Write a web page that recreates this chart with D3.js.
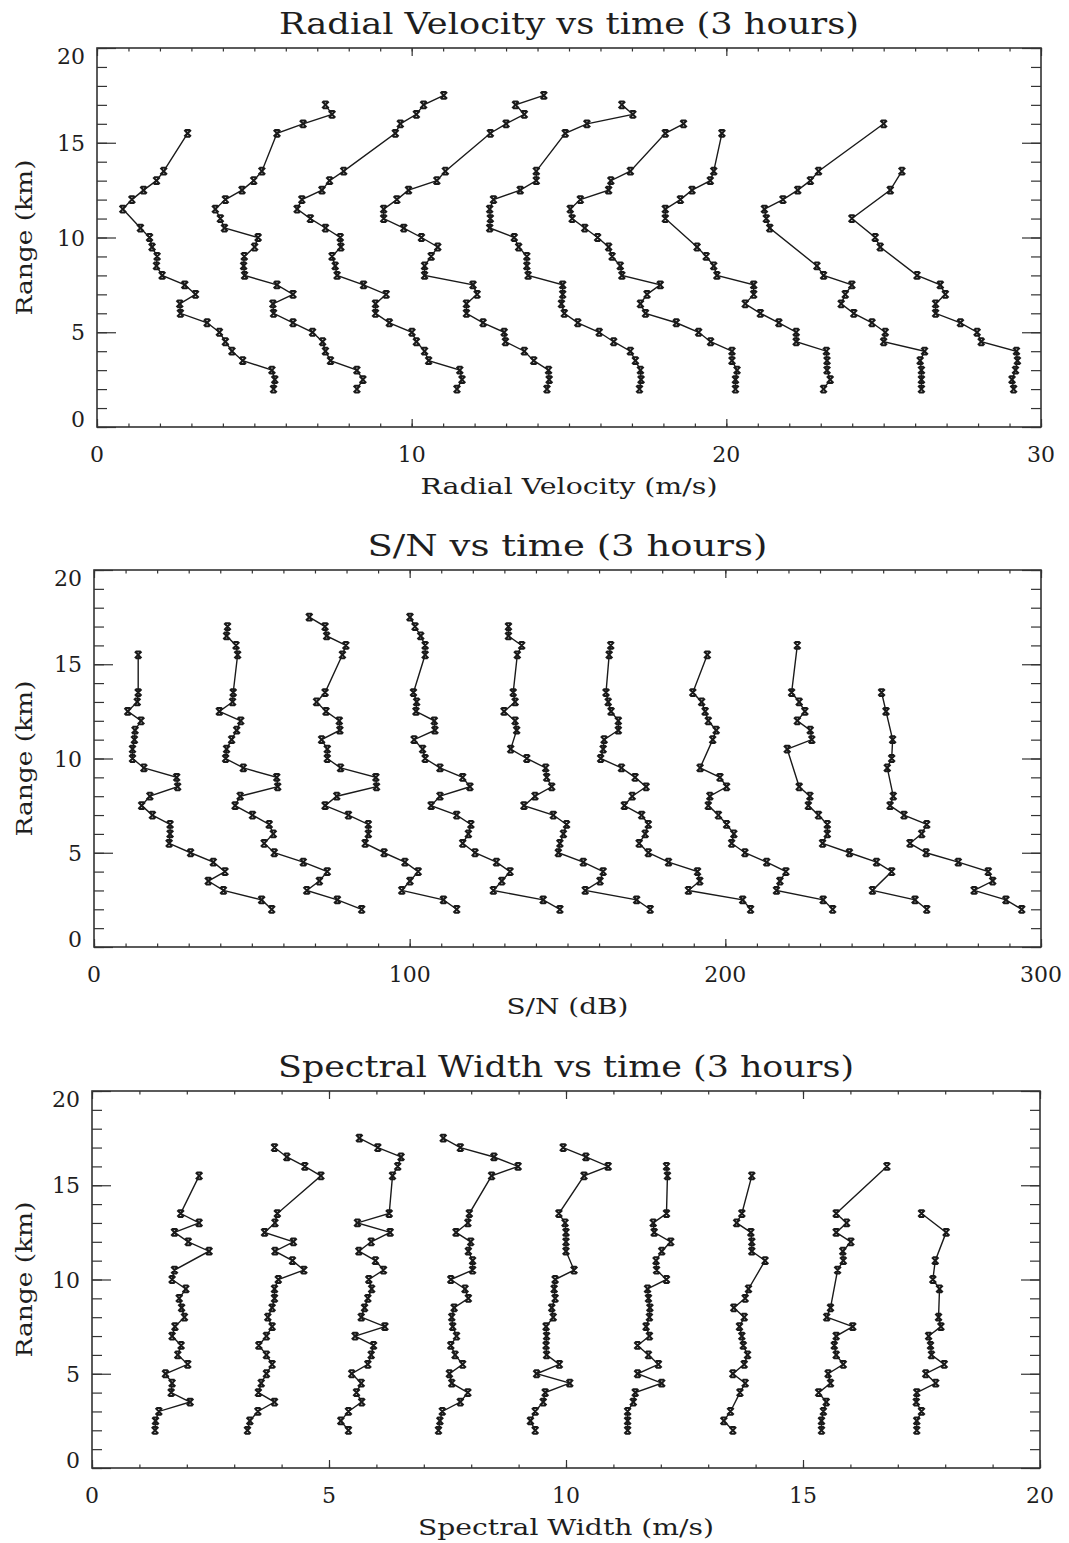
<!DOCTYPE html>
<html>
<head>
<meta charset="utf-8">
<script src="https://cdn.jsdelivr.net/npm/d3@7"></script>
<style>
  body { margin: 0; background: #fff; }
  svg { display: block; }
  text { font-family: "DejaVu Serif", "Liberation Serif", serif; fill: #1e1e1e; }
</style>
</head>
<body>
<svg id="chart" width="1069" height="1543"></svg>
<script>
const _ = null;

// range gates (km), shared by every profile
const ranges = [2, 2.5, 3, 3.5, 4, 4.5, 5, 5.5, 6, 6.5, 7, 7.5, 8, 8.5, 9, 9.5,
                10, 10.5, 11, 11.5, 12, 12.5, 13, 13.5, 14, 14.5, 15, 15.5, 16, 16.5, 17, 17.5];

// radial velocity profiles (m/s), one per time step
const vel1 = [5.61, 5.65, 5.56, 4.63, 4.29, 4.08, 3.89, 3.5, 2.65, 2.63, 3.13, 2.79, 2.07, 1.89, 1.91, 1.75, 1.67, 1.38, _, 0.82, 1.11, 1.48, 1.89, 2.12, _, _, _, 2.88, _, _, _, _];
const vel2 = [8.26, 8.45, 8.26, 7.42, 7.26, 7.17, 6.85, 6.23, 5.61, 5.59, 6.23, 5.72, 4.69, 4.66, 4.68, 5.01, 5.12, 4.05, 3.92, 3.76, 4.08, 4.61, 4.98, 5.24, _, _, _, 5.72, 6.55, 7.47, 7.26, _];
const vel3 = [11.44, 11.6, 11.53, 10.54, 10.41, 10.15, 10.01, 9.29, 8.85, 8.85, 9.19, 8.47, 7.63, 7.57, 7.47, 7.75, 7.73, 7.26, 6.78, 6.36, 6.51, 7.15, 7.39, 7.84, _, _, _, 9.48, 9.64, 10.15, 10.38, 11.02];
const vel4 = [14.3, 14.37, 14.35, 13.88, 13.58, 12.98, 12.94, 12.27, 11.74, 11.74, 12.08, 11.95, 10.41, 10.41, 10.62, 10.83, 10.31, 9.75, 9.11, 9.11, 9.53, 9.9, 10.8, 11.07, _, _, _, 12.5, 13.0, 13.58, 13.3, 14.2];
const vel5 = [17.24, 17.29, 17.27, 17.11, 16.95, 16.42, 15.96, 15.28, 14.85, 14.76, 14.8, 14.8, 13.7, 13.66, 13.66, 13.4, 13.26, 12.48, 12.5, 12.48, 12.6, 13.45, 13.96, 13.96, _, _, _, 14.88, 15.57, 17.03, 16.68, _];
const vel6 = [20.29, 20.29, 20.34, 20.18, 20.18, 19.5, 19.12, 18.41, 17.43, 17.27, 17.48, 17.9, 16.68, 16.63, 16.37, 16.26, 15.91, 15.5, 15.1, 15.04, 15.36, 16.26, 16.33, 16.95, _, _, _, 18.06, 18.64, _, _, _];
const vel7 = [23.09, 23.3, 23.2, 23.2, 23.18, 22.22, 22.22, 21.67, 21.08, 20.6, 20.87, 20.87, 19.7, 19.6, 19.36, 19.07, _, _, 18.06, 18.06, 18.54, 18.91, 19.49, 19.6, _, _, _, 19.86, _, _, _, _];
const vel8 = [26.2, 26.2, 26.2, 26.16, 26.3, 25.0, 25.05, 24.63, 24.05, 23.65, 23.78, 23.99, 23.09, 22.88, _, _, _, 21.38, 21.27, 21.21, 21.8, 22.27, 22.67, 22.93, _, _, _, _, 25.0, _, _, _];
const vel9 = [29.13, 29.08, 29.19, 29.25, 29.22, 28.1, 27.97, 27.44, 26.65, 26.65, 26.96, 26.8, 26.06, _, _, 24.89, 24.73, _, 23.99, _, _, 25.21, _, 25.58, _, _, _, _, _, _, _, _];

// signal to noise profiles (dB)
const snr1 = [56.3, 53.1, 41.0, 36.2, 41.5, 37.8, 30.6, 23.8, 24.1, 24.1, 18.5, 15.1, 17.7, 26.5, 26.2, 15.8, 12.2, 12.2, 12.8, 13.0, 14.9, 10.7, 13.7, 14.0, _, _, _, 14.0, _, _, _, _];
const snr2 = [84.8, 77.1, 67.4, 71.4, 73.9, 66.3, 57.1, 53.9, 56.8, 55.5, 50.2, 44.7, 46.3, 58.2, 57.9, 47.3, 41.7, 42.0, 43.6, 45.2, 46.5, 39.7, 43.9, 44.1, _, _, _, 45.5, 45.0, 42.0, 42.3, _];
const snr3 = [114.9, 110.7, 97.5, 100.1, 102.7, 98.5, 91.9, 85.9, 86.9, 86.9, 80.6, 73.2, 76.9, 89.5, 89.3, 78.1, 73.9, 73.9, 72.1, 77.9, 77.7, 73.5, 70.5, 73.2, _, _, _, 78.7, 79.8, 73.7, 73.2, 68.2];
const snr4 = [147.6, 142.3, 126.5, 129.2, 131.8, 127.5, 120.7, 116.8, 118.6, 119.4, 114.9, 106.8, 109.6, 119.1, 116.8, 109.6, 104.9, 104.1, 101.4, 108.0, 107.8, 102.0, 102.2, 101.2, _, _, _, 104.9, 104.9, 103.5, 101.7, 100.1];
const snr5 = [176.2, 171.9, 155.6, 160.3, 161.3, 155.0, 147.1, 147.6, 148.7, 149.7, 145.5, 136.2, 139.7, 145.0, 143.4, 143.1, 137.1, 132.0, _, 133.9, 133.4, 129.9, 133.4, 132.8, _, _, _, 134.1, 135.5, 131.3, 131.3, _];
const snr6 = [208.0, 205.5, 188.3, 191.9, 191.2, 182.0, 175.6, 172.7, 174.6, 175.6, 173.5, 168.0, 170.5, 174.9, 171.4, 167.1, 160.5, 161.3, 161.6, 166.1, 166.1, 163.8, 162.9, 162.2, _, _, _, 163.2, 163.7, _, _, _];
const snr7 = [234.0, 231.0, 216.2, 217.3, 219.2, 213.1, 206.2, 202.0, 202.7, 200.4, 197.8, 194.6, 195.1, 200.4, 198.3, 192.0, _, _, 196.0, 197.1, 194.6, 193.6, 192.5, 189.7, _, _, _, 194.3, _, _, _, _];
const snr8 = [263.8, 260.1, 246.6, _, 252.7, 247.9, 239.3, 230.8, 232.3, 232.3, 229.5, 226.3, 226.8, 223.4, _, _, _, 219.6, 227.4, 226.9, 222.8, 225.2, 223.4, 221.0, _, _, _, _, 222.8, _, _, _];
const snr9 = [293.9, 288.9, 278.8, 284.7, 283.3, 273.8, 263.6, 258.5, 262.2, 263.8, 256.6, 252.2, 253.2, _, _, 251.3, 252.7, _, 253.0, _, _, 250.9, _, 249.5, _, _, _, _, _, _, _, _];

// spectral width profiles (m/s)
const wid1 = [1.33, 1.34, 1.41, 2.07, 1.67, 1.69, 1.55, 2.02, 1.81, 1.88, 1.69, 1.75, 1.95, 1.89, 1.84, 1.98, 1.69, 1.74, _, 2.47, 2.03, 1.74, 2.26, 1.87, _, _, _, 2.26, _, _, _, _];
const wid2 = [3.28, 3.33, 3.5, 3.85, 3.51, 3.57, 3.68, 3.8, 3.68, 3.52, 3.68, 3.8, 3.71, 3.8, 3.85, 3.85, 3.93, 4.47, 4.23, 3.86, 4.25, 3.64, 3.86, 3.91, _, _, _, 4.83, 4.49, 4.11, 3.85, _];
const wid3 = [5.41, 5.25, 5.41, 5.69, 5.58, 5.68, 5.48, 5.82, 5.89, 5.94, 5.55, 6.18, 5.68, 5.75, 5.82, 5.9, 5.84, 6.15, 5.98, 5.63, 5.89, 6.29, 5.6, 6.27, _, _, _, 6.34, 6.45, 6.52, 6.03, 5.64];
const wid4 = [7.31, 7.34, 7.39, 7.77, 7.93, 7.59, 7.54, 7.82, 7.66, 7.57, 7.69, 7.61, 7.59, 7.64, 7.94, 7.87, 7.57, 8.03, 8.03, 7.94, 7.99, 7.68, 7.93, 7.96, _, _, _, 8.43, 8.99, 8.48, 7.77, 7.41];
const wid5 = [9.35, 9.25, 9.35, 9.52, 9.56, 10.08, 9.38, 9.86, 9.59, 9.58, 9.59, 9.58, 9.73, 9.7, 9.77, 9.75, 9.77, 10.17, _, 10.0, 10.0, 10.0, 9.98, 9.85, _, _, _, 10.38, 10.89, 10.42, 9.94, _];
const wid6 = [11.3, 11.3, 11.3, 11.42, 11.46, 12.02, 11.51, 11.95, 11.74, 11.51, 11.76, 11.69, 11.76, 11.77, 11.74, 11.72, 12.12, 11.91, 11.9, 12.02, 12.21, 11.86, 11.84, 12.12, _, _, _, 12.14, 12.12, _, _, _];
const wid7 = [13.52, 13.33, 13.47, _, 13.67, 13.78, 13.52, 13.76, 13.83, 13.74, 13.71, 13.66, 13.76, 13.54, 13.78, 13.85, _, _, 14.2, 13.92, 13.92, 13.9, 13.6, 13.71, _, _, _, 13.92, _, _, _, _];
const wid8 = [15.39, 15.39, 15.43, 15.49, 15.33, 15.58, 15.53, 15.85, 15.7, 15.66, 15.7, 16.05, 15.5, 15.58, _, _, _, 15.73, 15.85, 15.84, 16.01, 15.7, 15.92, 15.7, _, _, _, _, 16.77, _, _, _];
const wid9 = [17.4, 17.4, 17.5, 17.39, 17.4, 17.8, 17.59, 17.98, 17.71, 17.69, 17.65, 17.91, 17.86, _, _, 17.88, 17.74, _, 17.79, _, _, 18.02, _, 17.5, _, _, _, _, _, _, _, _];

// tick labels
const rangeTicks = [0, 5, 10, 15, 20];
const velTicks = [0, 10, 20, 30];
const snrTicks = [0, 100, 200, 300];
const widTicks = [0, 5, 10, 15, 20];

const panels = [
  { title: "Radial Velocity vs time (3 hours)", xlabel: "Radial Velocity (m/s)",
    profiles: [vel1, vel2, vel3, vel4, vel5, vel6, vel7, vel8, vel9],
    xmax: 30, xticks: velTicks, minorStep: 1,
    box: { x: 97, y: 48, w: 944, h: 379 }, titleLen: 580, labelLen: 297 },
  { title: "S/N vs time (3 hours)", xlabel: "S/N (dB)",
    profiles: [snr1, snr2, snr3, snr4, snr5, snr6, snr7, snr8, snr9],
    xmax: 300, xticks: snrTicks, minorStep: 10,
    box: { x: 94, y: 570, w: 947, h: 377 }, titleLen: 400, labelLen: 122 },
  { title: "Spectral Width vs time (3 hours)", xlabel: "Spectral Width (m/s)",
    profiles: [wid1, wid2, wid3, wid4, wid5, wid6, wid7, wid8, wid9],
    xmax: 20, xticks: widTicks, minorStep: 1,
    box: { x: 92, y: 1091, w: 948, h: 377 }, titleLen: 576, labelLen: 296 }
];

const svg = d3.select("#chart");
const ink = "#1a1a1a";
// IDL style "x" marker, drawn a bit heavy like the printed plot
const marker = "M-3.3,-3.3L3.3,3.3M3.3,-3.3L-3.3,3.3M-2.4,-3.4H2.4M-2.4,3.4H2.4";

panels.forEach(p => {
  const b = p.box;
  const g = svg.append("g").attr("transform", `translate(${b.x},${b.y})`);

  const x = d3.scaleLinear().domain([0, p.xmax]).range([0, b.w]);
  const y = d3.scaleLinear().domain([0, 20]).range([b.h, 0]);

  const xMinor = d3.range(0, p.xmax + 1e-9, p.minorStep);
  const yMinor = d3.range(0, 20.001, 1);

  const noDomain = sel => {
    sel.select(".domain").remove();
    sel.selectAll("line").attr("stroke", "#333").attr("stroke-width", 1.2);
  };

  // inward ticks on all four sides, minor then major
  g.append("g").attr("transform", `translate(0,${b.h})`)
    .call(d3.axisBottom(x).tickValues(xMinor).tickSize(-3.5).tickFormat("")).call(noDomain);
  g.append("g").attr("transform", `translate(0,${b.h})`)
    .call(d3.axisBottom(x).tickValues(p.xticks).tickSize(-8).tickFormat("")).call(noDomain);
  g.append("g")
    .call(d3.axisTop(x).tickValues(xMinor).tickSize(-3.5).tickFormat("")).call(noDomain);
  g.append("g")
    .call(d3.axisTop(x).tickValues(p.xticks).tickSize(-8).tickFormat("")).call(noDomain);
  g.append("g")
    .call(d3.axisLeft(y).tickValues(yMinor).tickSize(-10).tickFormat("")).call(noDomain);
  g.append("g")
    .call(d3.axisLeft(y).tickValues(rangeTicks).tickSize(-19).tickFormat("")).call(noDomain);
  g.append("g").attr("transform", `translate(${b.w},0)`)
    .call(d3.axisRight(y).tickValues(yMinor).tickSize(-10).tickFormat("")).call(noDomain);
  g.append("g").attr("transform", `translate(${b.w},0)`)
    .call(d3.axisRight(y).tickValues(rangeTicks).tickSize(-19).tickFormat("")).call(noDomain);

  g.append("rect")
    .attr("width", b.w).attr("height", b.h)
    .attr("fill", "none").attr("stroke", "#333").attr("stroke-width", 1.6);

  // tick labels
  g.selectAll(".xlab").data(p.xticks).enter().append("text")
    .attr("x", d => x(d)).attr("y", b.h + 35)
    .attr("text-anchor", "middle").attr("font-size", 22)
    .text(d => d);

  g.selectAll(".ylab").data(rangeTicks).enter().append("text")
    .attr("x", -12)
    .attr("y", d => d === 0 ? b.h : d === 20 ? 16 : y(d) + 8)
    .attr("text-anchor", "end").attr("font-size", 22)
    .text(d => d);

  // titles
  svg.append("text")
    .attr("x", b.x + b.w / 2).attr("y", b.y - 14)
    .attr("text-anchor", "middle").attr("font-size", 30)
    .attr("textLength", p.titleLen).attr("lengthAdjust", "spacingAndGlyphs")
    .text(p.title);

  svg.append("text")
    .attr("x", b.x + b.w / 2).attr("y", b.y + b.h + 67)
    .attr("text-anchor", "middle").attr("font-size", 22)
    .attr("textLength", p.labelLen).attr("lengthAdjust", "spacingAndGlyphs")
    .text(p.xlabel);

  svg.append("text")
    .attr("transform", `translate(32,${b.y + b.h / 2}) rotate(-90)`)
    .attr("text-anchor", "middle").attr("font-size", 22)
    .attr("textLength", 156).attr("lengthAdjust", "spacingAndGlyphs")
    .text("Range (km)");

  // profiles
  const line = d3.line().x(d => x(d[1])).y(d => y(d[0]));

  p.profiles.forEach(vals => {
    const pts = ranges.map((r, i) => [r, vals[i]]).filter(d => d[1] !== null);

    g.append("path")
      .datum(pts)
      .attr("d", line)
      .attr("fill", "none")
      .attr("stroke", ink)
      .attr("stroke-width", 1.4);

    g.selectAll(null).data(pts).enter().append("path")
      .attr("d", marker)
      .attr("transform", d => `translate(${x(d[1])},${y(d[0])})`)
      .attr("fill", "none")
      .attr("stroke", ink)
      .attr("stroke-width", 2);
  });
});
</script>
</body>
</html>
